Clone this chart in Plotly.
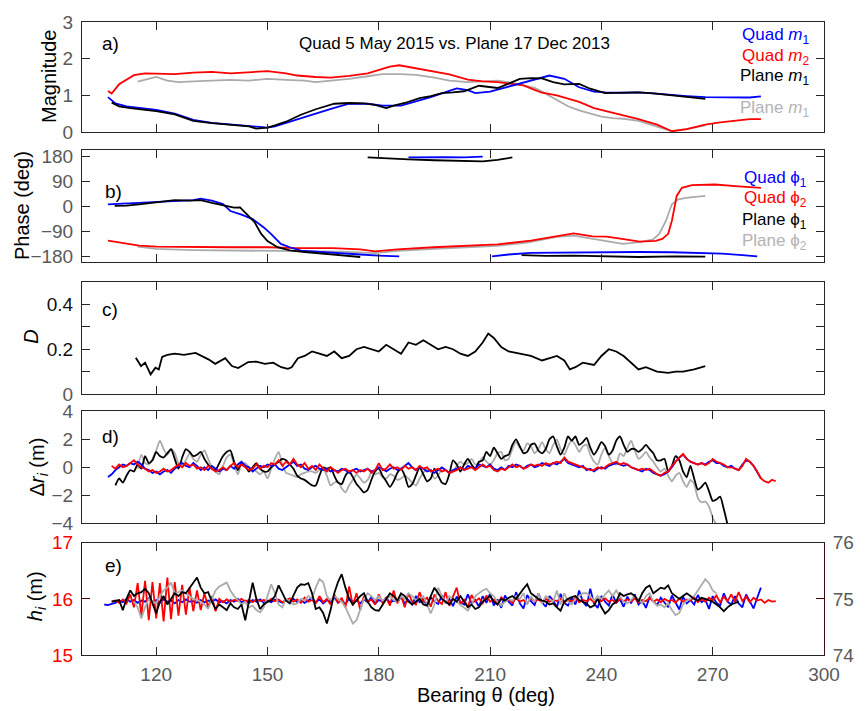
import numpy as np
import plotly.graph_objects as go

# ---------------- data ----------------
# Panel a: magnitudes (bearing, value)
A_QUAD_M1 = [(107, 0.95), (109, 0.78), (112, 0.70), (115, 0.66), (118, 0.62), (120, 0.60), (125, 0.50),
             (130, 0.33), (135, 0.25), (140, 0.21), (145, 0.17), (150, 0.12), (152, 0.15), (155, 0.24),
             (159, 0.36), (163, 0.50), (168, 0.66), (172, 0.77), (177, 0.77), (181, 0.72), (186, 0.72),
             (190, 0.83), (194, 0.95), (199, 1.12), (201, 1.19), (204, 1.14), (206, 1.06), (210, 1.10),
             (216, 1.27), (221, 1.40), (226, 1.54), (230, 1.45), (234, 1.22), (238, 1.10), (241, 1.08),
             (246, 1.07), (250, 1.08), (254, 1.05), (258, 1.01), (263, 0.98), (268, 0.95), (272, 0.95),
             (277, 0.95), (280, 0.94), (283, 0.97)]
A_QUAD_M2 = [(107, 1.12), (108, 1.05), (110, 1.30), (112, 1.42), (114, 1.55), (117, 1.60), (120, 1.60),
             (125, 1.58), (130, 1.62), (135, 1.64), (140, 1.60), (145, 1.62), (150, 1.66), (155, 1.60),
             (158, 1.54), (163, 1.50), (167, 1.48), (172, 1.53), (177, 1.60), (181, 1.72), (183, 1.78),
             (185.5, 1.82), (190, 1.74), (195, 1.64), (199, 1.57), (204, 1.43), (208, 1.38), (212, 1.36),
             (216, 1.30), (219, 1.27), (222, 1.15), (224, 1.07), (228, 1.00), (231, 0.92), (234, 0.82),
             (238, 0.65), (242, 0.55), (246, 0.45), (250, 0.35), (255, 0.20), (259, 0.02), (263, 0.08),
             (268, 0.20), (272, 0.26), (277, 0.32), (280, 0.35), (283, 0.35)]
A_PLANE_M1 = [(108, 0.80), (110, 0.70), (113, 0.65), (116, 0.62), (120, 0.57), (125, 0.48), (130, 0.30),
              (135, 0.24), (140, 0.20), (145, 0.15), (147, 0.09), (150, 0.12), (152, 0.18), (155, 0.28),
              (159, 0.47), (163, 0.62), (168, 0.77), (172, 0.79), (176, 0.78), (179, 0.74), (182, 0.65),
              (184, 0.72), (187, 0.79), (191, 0.92), (194, 0.98), (197, 1.06), (200, 1.08), (203, 1.11),
              (207, 1.26), (210, 1.22), (212, 1.20), (215, 1.32), (218, 1.45), (221, 1.47), (224, 1.46),
              (227, 1.36), (230, 1.30), (234, 1.31), (237, 1.18), (241, 1.06), (246, 1.07), (250, 1.08),
              (254, 1.05), (258, 1.01), (261, 0.98), (265, 0.93), (268, 0.90)]
A_PLANE_M2 = [(115, 1.37), (117, 1.42), (120, 1.50), (123, 1.40), (126, 1.36), (130, 1.38), (135, 1.40),
              (140, 1.42), (145, 1.40), (150, 1.45), (155, 1.42), (160, 1.40), (163, 1.36), (168, 1.40),
              (172, 1.45), (177, 1.52), (181, 1.58), (186, 1.58), (190, 1.56), (195, 1.48), (199, 1.40),
              (204, 1.36), (208, 1.38), (212, 1.40), (216, 1.34), (219, 1.27), (222, 1.20), (224, 1.10),
              (228, 0.86), (231, 0.70), (234, 0.59), (237, 0.50), (240, 0.42), (243, 0.38), (246, 0.36),
              (250, 0.30), (255, 0.14), (259, 0.02), (263, 0.08), (268, 0.18)]

# Panel b: phases in degrees, one list per unwrapped segment
B_QUAD_P1 = [
    [(107, 7), (112, 10), (118, 14), (124, 17), (130, 22), (132, 27), (135, 20), (138, 8), (140, -17),
     (143, -30), (146, -46), (149, -76), (151, -100), (153.6, -135), (156, -147), (159, -159),
     (165, -165), (170, -170), (175, -173), (180, -177), (185.5, -180)],
    [(188, 175), (193, 176), (198, 176), (203, 175), (208, 178)],
    [(210.5, -180), (215, -173), (221, -167), (227, -166), (232.5, -165), (240, -164), (250, -164),
     (259, -165), (266, -167), (272.5, -170), (278, -175), (282, -180)],
]
B_PLANE_P1 = [
    [(108.8, 1), (112, 2), (116, 8), (120, 15), (125, 22), (129, 20), (132, 22), (135, 12), (138.5, 1),
     (141, -5), (142.6, -4), (144.7, -34), (146.5, -57), (148.3, -99), (150, -125), (152.7, -147),
     (156, -158), (160, -164), (165, -170), (170, -177), (175, -182)],
    [(177, 175), (182, 171), (188, 168), (195, 165), (202, 163), (208, 161), (212, 166), (216, 175)],
    [(218.5, -175), (225, -178), (232.5, -177), (240, -180), (250, -182), (260, -180), (268, -181)],
]
B_QUAD_P2 = [(107, -123), (110, -130), (115.4, -141), (120, -145), (131, -147), (140, -147), (150, -147),
             (158, -150), (167.7, -150), (175, -155), (179, -162), (185, -155), (194.8, -147), (203, -142),
             (212, -137), (221, -123), (229.6, -103), (232.5, -97), (237.6, -108), (241.4, -109),
             (246, -118), (250.3, -127), (254.6, -124), (256.4, -117), (258, -99), (259, -52),
             (260.3, 37), (261.7, 66), (264.4, 76), (270.6, 78), (277, 71), (283, 66)]
B_PLANE_P2 = [(115, -145), (120, -153), (130, -157), (140, -158), (150, -159), (160, -160), (170, -163),
              (179, -168), (185, -160), (195, -153), (205, -147), (212, -142), (220, -130), (228, -110),
              (232.5, -105), (237, -115), (241.4, -123), (245.8, -135), (250.3, -129), (253.8, -120),
              (255.6, -99), (257.4, -52), (259, 7), (260.7, 25), (263.4, 31), (268, 37)]

# Panel c: D
C_D = [(114.5, 0.162), (115.9, 0.125), (117, 0.14), (118.5, 0.088), (119.8, 0.118), (120.7, 0.11),
       (121.6, 0.166), (123, 0.175), (125, 0.18), (127.5, 0.175), (130.6, 0.184), (132.5, 0.17),
       (134.2, 0.154), (135.9, 0.135), (138.6, 0.16), (140.4, 0.125), (142.1, 0.116), (144.8, 0.143),
       (147, 0.145), (149.3, 0.135), (151.5, 0.14), (153.7, 0.12), (155.5, 0.113), (156.5, 0.12),
       (158.2, 0.16), (160, 0.17), (162, 0.19), (164, 0.18), (166, 0.17), (168, 0.19), (170, 0.16),
       (172, 0.17), (174, 0.20), (176, 0.21), (178, 0.20), (180, 0.19), (182, 0.22), (184, 0.20),
       (186, 0.18), (188, 0.23), (190, 0.22), (192, 0.24), (194, 0.22), (196, 0.20), (198, 0.21),
       (200, 0.20), (202, 0.18), (204, 0.17), (206, 0.19), (208, 0.23), (209.5, 0.27), (211, 0.25),
       (213, 0.21), (215, 0.19), (218, 0.18), (221, 0.17), (224, 0.15), (226, 0.16), (228, 0.17),
       (230, 0.15), (231.5, 0.11), (233, 0.12), (235, 0.14), (238, 0.13), (240, 0.17), (242, 0.20),
       (244, 0.19), (246, 0.17), (248, 0.14), (250, 0.11), (252, 0.12), (255, 0.10), (258, 0.095),
       (260, 0.10), (262, 0.10), (265, 0.11), (268, 0.125)]

# Panel d: range differences, sampled every 1 deg from the given start bearing
D_STEP = 1.0
D_BLACK_START = 109
D_BLACK = [-1.3, -0.8, -1.1, -0.6, -0.2, -0.3, 0.2, -0.1, 0.8, 0.3,
           0.5, 1.1, 0.8, 0.7, 1.0, 1.3, 0.6, -0.1, 0.7, 1.3,
           1.1, 0.8, 0.9, 1.1, 0.6, 0.2, -0.1, -0.2, 0.3, 0.8,
           1.1, 1.2, 0.4, -0.2, 0.3, 0.1, -0.3, 0.0, 0.3, -0.1,
           -0.3, -0.3, 0.0, 0.2, 0.4, 0.6, 0.5, 0.2, -0.1, -0.6,
           -0.8, -0.9, -1.1, -1.3, -1.3, -0.6, 0.0, -0.1, 0.0, -0.6,
           -1.1, -1.2, -0.6, -0.3, -0.7, -1.2, -1.5, -1.8, -1.6, -0.9,
           -0.3, -0.1, -0.6, -1.0, -1.4, -1.0, -0.4, -0.1, -0.6, -1.4,
           -1.2, -0.6, 0.0, -0.5, -1.0, -0.8, -0.1, -0.6, -1.1, -1.2,
           -0.5, 0.5, 0.2, -0.3, 0.2, 0.6, 0.2, -0.1, 0.4, 0.5,
           1.1, 0.8, 1.4, 1.0, 0.6, 0.8, 0.9, 1.6, 2.0, 1.5,
           1.0, 1.1, 1.6, 1.7, 1.2, 1.0, 1.3, 2.0, 2.2, 1.5,
           0.9, 1.4, 2.2, 1.9, 2.2, 1.6, 1.8, 2.1, 1.4, 0.9,
           1.3, 1.8, 1.5, 0.9, 1.2, 1.9, 2.2, 1.6, 1.1, 1.3,
           1.3, 1.1, 1.3, 1.6, 1.3, 1.0, 0.5, 0.5, 0.6, -0.3,
           0.1, 0.8, 0.5, -0.3, -0.7, 0.1, -0.8, -1.6, -1.4, -1.1,
           -1.7, -2.4, -2.3, -2.1, -3.0, -4.1]
D_GRAY_START = 115
D_GRAY = [-0.1, 0.9, 0.3, 0.2, 0.6, 1.2, 1.9, 1.3, 0.9, 1.3,
          1.0, 0.3, 0.1, 0.5, 1.0, 0.6, 0.4, 0.9, 1.2, 0.6,
          0.0, -0.3, -0.5, 0.1, 0.7, 0.9, 0.2, -0.5, 0.2, 0.3,
          0.0, -0.1, -0.3, -0.5, -0.3, -0.8, -0.1, 0.6, 1.1, 0.2,
          -0.4, -0.5, -0.6, -0.7, -0.5, -0.4, -0.3, -0.3, -0.4, -0.2,
          -0.1, -0.6, -1.3, -1.1, -1.0, -1.5, -1.8, -1.3, -0.9, -0.5,
          -0.8, -1.1, -0.9, -0.4, -0.5, -0.4, -0.7, -0.8, -0.5, -0.6,
          -0.9, -0.8, -0.6, -0.8, -1.1, -1.3, -0.8, -0.4, -0.1, -0.3,
          -0.8, -0.6, -0.1, -0.2, -0.4, -0.3, 0.1, 0.4, 0.2, 0.3,
          0.6, 0.2, 0.3, 0.7, 0.4, 0.2, 0.5, 1.0, 1.1, 0.5,
          0.6, 1.3, 1.8, 1.4, 1.2, 1.7, 1.5, 1.0, 1.3, 1.8,
          1.3, 1.0, 1.6, 2.0, 1.3, 0.9, 1.5, 1.9, 1.6, 1.1,
          1.5, 1.6, 0.9, 0.4, 0.2, 0.9, 1.4, 0.8, 0.3, 0.2,
          1.0, 0.8, 1.4, 1.9, 1.2, 0.6, 0.8, 1.1, 0.7, 0.4,
          0.0, -0.3, -0.1, -0.6, -1.0, -0.6, -0.4, -1.0, -1.4, -0.9,
          -1.2, -2.2, -2.5, -2.45, -2.8, -3.6, -4.1]
D_BLUE_START = 107
D_BLUE = [-0.7, -0.5, -0.2, 0.0, 0.2, 0.1, 0.3, 0.2, 0.4, 0.2,
          -0.1, -0.2, -0.4, -0.3, -0.5, -0.3, -0.2, -0.4, -0.1, 0.1,
          0.3, 0.1, 0.0, 0.3, 0.1, -0.2, 0.0, -0.2, 0.1, -0.1,
          -0.3, -0.1, -0.2, 0.1, -0.1, 0.2, 0.4, 0.1, 0.0, -0.3,
          -0.1, 0.1, 0.0, 0.2, 0.1, 0.2, -0.1, -0.2, 0.0, 0.2,
          0.4, 0.1, 0.2, -0.1, -0.2, 0.0, 0.1, -0.1, -0.2, -0.1,
          -0.3, -0.2, -0.3, -0.1, -0.2, -0.4, -0.2, -0.1, -0.3, -0.2,
          -0.1, -0.3, -0.2, 0.0, -0.1, -0.3, -0.1, 0.0, -0.2, -0.1,
          0.1, 0.3, 0.0, -0.2, 0.0, -0.1, -0.3, -0.2, -0.4, -0.2,
          0.0, -0.2, -0.4, -0.2, -0.1, 0.0, -0.2, 0.1, 0.0, -0.1,
          0.2, 0.1, 0.0, 0.2, -0.1, -0.2, 0.0, -0.2, 0.1, 0.0,
          0.2, 0.1, -0.1, 0.1, 0.2, 0.0, 0.1, 0.3, 0.2, 0.1,
          0.3, 0.2, 0.4, 0.6, 0.3, 0.2, 0.1, 0.0, 0.1, -0.2,
          -0.1, -0.3, -0.1, 0.0, -0.1, 0.1, 0.2, 0.3, 0.2, 0.1,
          0.2, 0.0, -0.1, -0.2, -0.3, -0.1, -0.2, -0.4, -0.5, -0.6,
          -0.5, -0.3, 0.0, 0.4, 0.7, 0.9, 0.6, 0.4, 0.3, 0.2,
          0.3, 0.2, 0.4, 0.5, 0.3, 0.3, 0.1, 0.0, 0.1, -0.1,
          -0.2, 0.2, 0.5, 0.4, 0.1, -0.4, -0.8]
D_RED_START = 108
D_RED = [0.1, -0.1, 0.2, 0.0, 0.1, 0.3, 0.5, 0.2, 0.0, -0.1,
         -0.3, -0.2, -0.4, -0.3, -0.1, -0.3, -0.2, 0.0, 0.2, 0.0,
         0.3, 0.1, 0.2, -0.1, 0.0, -0.2, 0.1, -0.1, -0.3, -0.2,
         0.0, -0.2, 0.1, 0.3, 0.0, 0.2, 0.0, -0.2, -0.1, 0.2,
         -0.1, 0.1, 0.0, 0.3, 0.2, 0.5, 0.1, 0.4, 0.2, 0.6,
         0.2, 0.0, 0.3, -0.1, 0.1, -0.2, 0.2, -0.1, -0.3, 0.0,
         -0.2, -0.4, -0.2, -0.1, -0.3, -0.2, -0.4, -0.2, -0.3, -0.1,
         -0.4, -0.2, 0.3, -0.2, -0.1, 0.2, -0.1, 0.0, -0.2, 0.1,
         -0.1, 0.0, -0.2, 0.1, -0.1, 0.0, -0.3, -0.2, -0.1, -0.3,
         -0.2, -0.4, -0.3, -0.2, 0.0, -0.2, -0.1, 0.0, -0.2, 0.0,
         0.2, 0.0, 0.1, -0.2, -0.3, -0.1, -0.2, 0.0, 0.2, 0.0,
         0.1, -0.1, 0.0, 0.2, 0.1, 0.2, 0.1, 0.3, 0.2, 0.3,
         0.4, 0.3, 0.7, 0.4, 0.3, 0.2, 0.1, 0.0, -0.1, -0.2,
         -0.2, 0.0, -0.1, 0.0, 0.2, 0.3, 0.4, 0.2, 0.3, 0.2,
         0.0, -0.1, -0.2, -0.1, -0.2, -0.1, -0.3, -0.5, -0.6, -0.4,
         -0.3, 0.1, 0.4, 0.7, 0.95, 0.6, 0.4, 0.3, 0.2, 0.3,
         0.15, 0.3, 0.6, 0.4, 0.3, 0.2, 0.0, 0.0, -0.1, -0.2,
         0.1, 0.6, 0.4, 0.1, -0.3, -0.8, -1.0, -1.1, -0.9, -1.0]

# Panel e: heights (quad on left axis, plane on right axis), every 1 deg
E_STEP = 1.0
E_BLUE_START = 106
E_BLUE = [15.90, 15.89, 15.91, 15.93, 15.97, 15.94, 16.00, 15.95, 15.98, 15.93,
          15.97, 15.95, 16.01, 15.94, 15.98, 15.93, 15.99, 15.95, 15.97, 15.92,
          15.98, 15.94, 15.99, 15.95, 15.96, 15.93, 15.98, 15.94, 15.97, 15.95,
          15.99, 15.94, 15.96, 15.92, 15.98, 15.95, 16.00, 15.94, 15.97, 15.93,
          15.98, 15.95, 15.99, 15.93, 15.97, 15.94, 15.99, 15.96, 15.93, 15.98,
          15.95, 16.00, 15.94, 15.98, 15.93, 15.97, 16.02, 15.94, 15.99, 15.92,
          15.98, 15.95, 16.03, 15.93, 15.98, 15.90, 16.01, 15.95, 15.97, 15.92,
          15.99, 15.94, 16.03, 15.91, 15.98, 15.95, 16.02, 15.93, 15.97, 15.95,
          16.04, 15.92, 15.98, 15.90, 16.05, 15.94, 15.99, 15.88, 16.03, 15.95,
          15.91, 16.06, 15.93, 16.00, 15.87, 16.04, 15.95, 15.90, 16.08, 15.92,
          15.98, 15.86, 16.05, 15.93, 16.10, 15.88, 15.99, 15.84, 16.06, 15.95,
          15.88, 16.12, 15.92, 15.83, 16.07, 15.96, 15.89, 16.10, 15.94, 15.86,
          16.05, 15.97, 15.85, 16.09, 15.93, 15.88, 16.02, 15.90, 16.15, 15.95,
          15.87, 16.18, 15.92, 15.84, 16.05, 15.95, 15.88, 16.08, 15.93, 15.99,
          15.86, 16.04, 15.92, 16.08, 15.90, 15.97, 15.84, 16.03, 15.95, 15.89,
          16.02, 15.93, 15.85, 16.06, 15.94, 15.81, 16.04, 15.92, 15.98, 15.90,
          16.07, 15.94, 15.99, 15.82, 16.05, 15.93, 15.88, 16.10, 15.95, 15.90,
          16.05, 15.92, 15.85, 16.08, 15.96, 15.83, 16.02, 16.20]
E_RED_START = 108
E_RED = [15.95, 15.97, 15.93, 15.99, 15.92, 16.08, 15.85, 16.28, 15.70, 16.32,
         15.62, 16.30, 15.65, 16.28, 15.60, 16.38, 15.64, 16.30, 15.70, 16.25,
         15.72, 16.20, 15.78, 16.15, 15.80, 16.10, 15.85, 16.05, 15.78, 16.00,
         15.94, 15.99, 15.95, 15.98, 15.96, 16.00, 15.95, 15.98, 15.94, 15.99,
         15.96, 15.98, 15.95, 16.00, 15.96, 15.99, 15.94, 15.98, 16.01, 15.95,
         15.99, 15.93, 16.02, 15.95, 15.98, 15.92, 16.05, 15.94, 16.00, 15.90,
         16.08, 15.93, 16.02, 15.85, 16.22, 15.88, 16.10, 15.80, 16.05, 15.95,
         15.99, 15.90, 16.08, 15.93, 16.02, 15.88, 16.15, 15.92, 16.05, 15.85,
         16.10, 15.95, 15.90, 16.12, 15.94, 16.03, 15.86, 16.08, 15.96, 15.91,
         16.12, 15.88, 16.05, 16.20, 15.90, 15.98, 15.85, 16.07, 15.95, 16.01,
         15.92, 16.06, 15.95, 15.99, 15.90, 16.03, 15.96, 15.99, 15.93, 16.02,
         15.95, 15.98, 15.92, 16.01, 15.96, 15.99, 15.94, 16.00, 15.95, 15.98,
         15.96, 16.00, 15.93, 15.99, 15.95, 16.02, 15.94, 15.98, 15.96, 16.00,
         15.94, 15.99, 15.96, 16.01, 15.95, 15.98, 15.93, 16.00, 15.96, 15.99,
         15.95, 16.01, 15.94, 15.98, 15.96, 16.02, 15.95, 15.99, 15.94, 16.00,
         15.96, 15.98, 15.93, 16.01, 15.95, 15.99, 15.97, 16.03, 15.94, 16.00,
         15.95, 16.02, 15.97, 16.06, 15.94, 16.04, 15.96, 16.08, 15.95, 16.12,
         15.96, 16.04, 15.94, 16.02, 15.97, 15.99, 15.93, 15.98, 15.95, 15.96]
E_BLACK_START = 108
E_BLACK = [74.95, 74.97, 74.98, 74.80, 75.00, 75.15, 75.05, 75.10, 75.12, 75.18,
           75.10, 74.92, 74.74, 74.95, 75.05, 74.90, 75.00, 75.10, 75.05, 75.12,
           75.10, 75.20, 75.30, 75.38, 75.20, 75.10, 75.12, 74.95, 74.82, 74.90,
           74.85, 74.80, 74.92, 74.85, 74.82, 74.90, 74.62, 74.95, 75.29, 75.00,
           74.82, 74.90, 74.95, 74.97, 75.05, 75.24, 75.10, 74.97, 74.92, 75.05,
           75.20, 75.26, 75.25, 75.28, 75.10, 74.82, 74.85, 74.75, 74.56, 74.80,
           75.10, 75.30, 75.44, 75.20, 75.00, 74.90, 74.98, 75.05, 75.10, 74.95,
           74.85, 74.80, 74.79, 74.90, 75.00, 75.10, 75.05, 74.97, 75.10, 75.05,
           74.95, 74.90, 74.95, 75.00, 74.90, 74.88, 75.05, 75.20, 75.10, 75.00,
           74.95, 74.90, 75.00, 74.95, 75.05, 74.95, 74.85, 74.90, 74.82, 74.85,
           74.95, 75.00, 75.05, 74.95, 74.90, 75.00, 74.97, 75.02, 75.05, 75.00,
           75.10, 75.18, 75.26, 75.10, 75.05, 75.00, 74.97, 74.95, 74.90, 74.92,
           74.85, 74.79, 74.95, 75.00, 75.03, 75.05, 74.98, 74.95, 74.92, 74.85,
           74.88, 75.00, 74.85, 74.74, 74.80, 74.90, 74.95, 75.10, 75.05, 75.08,
           75.10, 75.05, 74.95, 75.10, 75.20, 75.24, 75.10, 75.15, 75.20, 75.18,
           75.24, 75.10, 75.05, 75.00, 75.05, 75.10, 75.05, 75.00, 74.97, 75.02,
           75.00, 74.98, 74.95, 74.90, 74.85, 74.78, 74.85, 74.90, 74.93, 74.95]
E_GRAY_START = 114
E_GRAY = [74.95, 74.85, 74.65, 74.85, 75.00, 74.95, 74.92, 75.05, 75.15, 75.20,
          75.29, 75.10, 75.12, 75.15, 75.10, 75.05, 75.00, 74.98, 74.95, 74.90,
          74.82, 75.00, 75.15, 75.22, 75.25, 75.29, 75.15, 75.05, 74.98, 74.90,
          74.95, 74.85, 74.88, 74.80, 74.76, 74.85, 75.05, 75.26, 75.10, 74.90,
          74.85, 75.00, 74.95, 74.90, 74.92, 75.00, 74.97, 75.05, 75.00, 75.20,
          75.35, 75.30, 75.05, 74.98, 75.05, 75.00, 74.95, 74.85, 74.70, 74.56,
          74.62, 74.80, 75.00, 75.10, 75.05, 74.98, 75.05, 74.97, 75.00, 75.05,
          74.98, 74.95, 75.05, 75.00, 75.10, 75.05, 74.98, 75.00, 75.05, 74.90,
          74.74, 74.90, 75.20, 75.05, 74.92, 75.05, 75.00, 74.95, 74.90, 74.85,
          74.79, 74.90, 75.05, 75.10, 75.15, 75.18, 75.10, 75.05, 74.95, 74.88,
          74.95, 75.00, 74.97, 75.05, 75.00, 75.10, 74.90, 75.05, 74.95, 75.10,
          74.92, 75.05, 75.00, 74.95, 75.15, 74.90, 75.10, 74.95, 74.90, 75.00,
          75.05, 75.10, 75.10, 75.05, 74.97, 75.05, 75.00, 75.08, 75.15, 75.05,
          75.15, 75.05, 74.95, 74.92, 74.98, 75.05, 75.00, 74.92, 75.05, 75.10,
          74.95, 74.88, 74.90, 74.85, 74.92, 74.80, 74.71, 74.75, 74.90, 74.97,
          75.00, 75.05, 75.15, 75.25, 75.35, 75.28, 75.15, 75.10]

X_TICKS = [120, 150, 180, 210, 240, 270, 300]

# ---------------- styling ----------------
W, H = 866, 711
ML, MR, MT, MB = 82, 32, 16, 56
FONT = "Liberation Sans, Arial, Helvetica, sans-serif"
TICK_GRAY = "#595959"
AXC = "#262626"
BLUE, RED, BLACK, GRAY = "#0000ff", "#ff0000", "#000000", "#ababab"
LW = 1.8


def fy(py):
    return (H - MB - py) / (H - MT - MB)


def fx(px):
    return (px - ML) / (W - ML - MR)


# vertical extent of each panel (pixel rows, top -> bottom)
PANEL_ROWS = [(16, 127), (145.7, 258.3), (278.3, 391.7), (409, 522), (541.7, 655)]


def xy(pairs):
    return [p[0] for p in pairs], [p[1] for p in pairs]


def grid(start, values, step):
    return start + step * np.arange(len(values))


fig = go.Figure()


def line(x, y, color, k, yax=None, spline=False, width=LW):
    fig.add_trace(go.Scatter(
        x=x, y=y, mode="lines",
        line=dict(color=color, width=width, shape="spline" if spline else "linear", smoothing=0.6),
        xaxis="x" if k == 1 else f"x{k}",
        yaxis=yax if yax else ("y" if k == 1 else f"y{k}"),
        showlegend=False, hoverinfo="skip"))


# a) magnitudes
for pairs, col in [(A_PLANE_M2, GRAY), (A_QUAD_M2, RED), (A_QUAD_M1, BLUE), (A_PLANE_M1, BLACK)]:
    line(*xy(pairs), col, 1)

# b) phases
line(*xy(B_PLANE_P2), GRAY, 2)
line(*xy(B_QUAD_P2), RED, 2)
for seg in B_QUAD_P1:
    line(*xy(seg), BLUE, 2)
for seg in B_PLANE_P1:
    line(*xy(seg), BLACK, 2)

# c) D
line(*xy(C_D), BLACK, 3)

# d) range differences
line(grid(D_GRAY_START, D_GRAY, D_STEP), D_GRAY, GRAY, 4, spline=True)
line(grid(D_BLACK_START, D_BLACK, D_STEP), D_BLACK, BLACK, 4, spline=True)
line(grid(D_BLUE_START, D_BLUE, D_STEP), D_BLUE, BLUE, 4)
line(grid(D_RED_START, D_RED, D_STEP), D_RED, RED, 4)

# e) heights
line(grid(E_BLUE_START, E_BLUE, E_STEP), E_BLUE, BLUE, 5)
line(grid(E_RED_START, E_RED, E_STEP), E_RED, RED, 5)
line(grid(E_GRAY_START, E_GRAY, E_STEP), E_GRAY, GRAY, 5, yax="y6")
line(grid(E_BLACK_START, E_BLACK, E_STEP), E_BLACK, BLACK, 5, yax="y6")

tickfont = dict(family=FONT, size=19, color=TICK_GRAY)
layout = dict(
    width=W, height=H,
    margin=dict(l=ML, r=MR, t=MT, b=MB),
    paper_bgcolor="white", plot_bgcolor="white",
    font=dict(family=FONT, color="black"),
    showlegend=False,
)

for k, (top, bot) in enumerate(PANEL_ROWS, start=1):
    xname = "xaxis" if k == 1 else f"xaxis{k}"
    yname = "yaxis" if k == 1 else f"yaxis{k}"
    layout[xname] = dict(
        domain=[0, 1], anchor="y" if k == 1 else f"y{k}",
        range=[100, 300], tickvals=X_TICKS, showticklabels=(k == 5),
        ticks="inside", ticklen=8, tickwidth=1, tickcolor=AXC,
        showline=True, linecolor=AXC, linewidth=1, mirror="ticks",
        showgrid=False, zeroline=False, tickfont=tickfont, ticklabelstandoff=2)
    layout[yname] = dict(
        domain=[fy(bot), fy(top)], anchor="x" if k == 1 else f"x{k}",
        ticks="inside", ticklen=8, tickwidth=1, tickcolor=AXC,
        showline=True, linecolor=AXC, linewidth=1, mirror="ticks",
        showgrid=False, zeroline=False, tickfont=tickfont, ticklabelstandoff=4)

layout["yaxis"].update(range=[0, 3], tickvals=[0, 1, 2, 3])
layout["yaxis2"].update(range=[-200, 200], tickvals=[-180, -90, 0, 90, 180])
layout["yaxis3"].update(range=[0, 0.5], tickvals=[0, 0.1, 0.2, 0.3, 0.4, 0.5],
                        ticktext=[f'<span style="color:{TICK_GRAY}">0</span>', "", "0.2", "", "0.4", ""],
                        tickfont=dict(family=FONT, size=19, color="#111111"))
layout["yaxis4"].update(range=[-4, 4], tickvals=[-4, -2, 0, 2, 4])
layout["yaxis5"].update(range=[15, 17], tickvals=[15, 16, 17], mirror=False,
                        linecolor="#4a0000", tickcolor="#4a0000",
                        tickfont=dict(family=FONT, size=19, color="#ff0000"))
layout["yaxis6"] = dict(
    overlaying="y5", side="right", anchor="x5", range=[74, 76], tickvals=[74, 75, 76],
    ticks="inside", ticklen=8, tickwidth=1, tickcolor="#4a0000",
    showline=True, linecolor="#3a1010", linewidth=1,
    showgrid=False, zeroline=False, tickfont=tickfont, ticklabelstandoff=4)

fig.update_layout(**layout)

ann = []


def text(px, py, s, size=17, color="black", xanchor="center", angle=0):
    ann.append(dict(x=fx(px), y=fy(py), xref="paper", yref="paper", text=s, showarrow=False,
                    xanchor=xanchor, yanchor="middle", textangle=angle,
                    font=dict(family=FONT, size=size, color=color)))


# axis titles
text(49, 71, "Magnitude", size=20, angle=-90)
text(21, 201, "Phase (deg)", size=20, angle=-90)
text(30, 334, "<i>D</i>", size=20, angle=-90)
text(38, 465, "Δ<i>r<sub>i</sub></i> (m)", size=20, angle=-90)
text(36, 596, "<i>h<sub>i</sub></i> (m)", size=20, angle=-90)
text(491, 695, "Bearing θ (deg)", size=20)

# panel tags
text(100, 38, "a)", size=19, xanchor="left")
text(103, 187, "b)", size=19, xanchor="left")
text(100, 306, "c)", size=19, xanchor="left")
text(100, 434, "d)", size=19, xanchor="left")
text(103, 565, "e)", size=19, xanchor="left")

text(460, 38, "Quad 5 May 2015 vs. Plane 17 Dec 2013", size=17)

# line keys for panels a and b
for py, s, c in [(30, "Quad <i>m</i><sub>1</sub>", BLUE), (51, "Quad <i>m</i><sub>2</sub>", RED),
                 (72, "Plane <i>m</i><sub>1</sub>", BLACK), (104, "Plane <i>m</i><sub>1</sub>", "#b3b3b3")]:
    text(821, py, s, size=17, color=c, xanchor="right")
for py, s, c in [(174, "Quad ϕ<sub>1</sub>", BLUE), (195, "Quad ϕ<sub>2</sub>", RED),
                 (217, "Plane ϕ<sub>1</sub>", BLACK), (238, "Plane ϕ<sub>2</sub>", "#b3b3b3")]:
    text(819, py, s, size=17, color=c, xanchor="right")

fig.update_layout(annotations=ann)
fig.write_html("out.html")
